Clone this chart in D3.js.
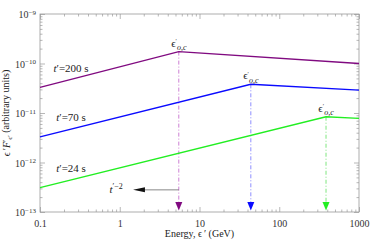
<!DOCTYPE html>
<html>
<head>
<meta charset="utf-8">
<script src="https://cdn.jsdelivr.net/npm/d3@7"></script>
<style>
  body { margin: 0; background: #fff; }
  text { font-family: "Liberation Serif", "DejaVu Serif", serif; }
</style>
</head>
<body>
<div class="chart"></div>
<script>
// spectra (energy in GeV, eF_e in arbitrary units)
const seriesNames = ['200 s', '70 s', '24 s'];
const seriesColors = ['#800a80', '#0a0aff', '#22ee22'];
const guideColors = ['#c060c8', '#7070ff', '#60e060'];
const energies = [
  [0.1, 5.5, 1000],
  [0.1, 44, 1000],
  [0.1, 386, 1000],
];
const fluxes = [
  [3.3e-11, 1.74e-10, 1.0e-10],
  [3.3e-12, 3.8e-11, 2.9e-11],
  [3.1e-13, 8.4e-12, 7.8e-12],
];
const xTicks = [0.1, 1, 10, 100, 1000];
const xTickLabels = ['0.1', '1', '10', '100', '1000'];
const yTicks = [1e-13, 1e-12, 1e-11, 1e-10, 1e-9];
const yTickExps = ['\u221213', '\u221212', '\u221211', '\u221210', '\u22129'];

const W = 371, H = 242;
const margin = {top: 14, right: 12, bottom: 30, left: 40};
const width = W - margin.left - margin.right;
const height = H - margin.top - margin.bottom;

const svg = d3.select('.chart').append('svg')
  .attr('width', W)
  .attr('height', H);

const g = svg.append('g')
  .attr('transform', `translate(${margin.left},${margin.top})`);

const x = d3.scaleLog().domain([0.1, 1000]).range([0, width]);
const y = d3.scaleLog().domain([1e-13, 1e-9]).range([height, 0]);

const frameColor = '#9a9a9a';

// minor ticks (all four sides, inward)
const xMinor = x.ticks().filter(d => xTicks.indexOf(d) === -1);
const yMinor = y.ticks().filter(d => !yTicks.some(t => Math.abs(t - d) / d < 1e-6));

function styleAxis(sel) {
  sel.select('.domain').remove();
  sel.selectAll('line').attr('stroke', frameColor).attr('stroke-width', 0.7);
}

g.append('g').attr('transform', `translate(0,${height})`)
  .call(d3.axisBottom(x).tickValues(xMinor).tickSize(-2.5).tickFormat(''))
  .call(styleAxis);
g.append('g')
  .call(d3.axisTop(x).tickValues(xMinor).tickSize(-2.5).tickFormat(''))
  .call(styleAxis);
g.append('g')
  .call(d3.axisLeft(y).tickValues(yMinor).tickSize(-2.5).tickFormat(''))
  .call(styleAxis);
g.append('g').attr('transform', `translate(${width},0)`)
  .call(d3.axisRight(y).tickValues(yMinor).tickSize(-2.5).tickFormat(''))
  .call(styleAxis);

// major ticks
const xb = g.append('g').attr('transform', `translate(0,${height})`)
  .call(d3.axisBottom(x).tickValues(xTicks).tickSize(-5).tickPadding(8)
    .tickFormat((d, i) => xTickLabels[i]))
  .call(styleAxis);
xb.selectAll('text').attr('fill', '#333').style('font-size', '10px');

g.append('g')
  .call(d3.axisTop(x).tickValues(xTicks).tickSize(-5).tickFormat(''))
  .call(styleAxis);
g.append('g').attr('transform', `translate(${width},0)`)
  .call(d3.axisRight(y).tickValues(yTicks).tickSize(-5).tickFormat(''))
  .call(styleAxis);

const yl = g.append('g')
  .call(d3.axisLeft(y).tickValues(yTicks).tickSize(-5).tickFormat(''))
  .call(styleAxis);
yl.selectAll('.tick').append('text')
  .attr('x', -4)
  .attr('dy', '0.35em')
  .attr('text-anchor', 'end')
  .attr('fill', '#333')
  .style('font-size', '10px')
  .each(function(d, i) {
    const t = d3.select(this);
    t.append('tspan').text('10');
    t.append('tspan').attr('dy', '-0.45em').style('font-size', '7px').text(yTickExps[i]);
  });

// frame
g.append('rect')
  .attr('width', width)
  .attr('height', height)
  .attr('fill', 'none')
  .attr('stroke', frameColor)
  .attr('stroke-width', 0.8);

// dash-dot guides from each break down to the axis, with arrowheads
energies.forEach((e, i) => {
  const bx = x(e[1]);
  const by = y(fluxes[i][1]);
  g.append('line')
    .attr('x1', bx).attr('x2', bx)
    .attr('y1', by).attr('y2', height - 8)
    .attr('stroke', guideColors[i])
    .attr('stroke-width', 0.8)
    .attr('stroke-dasharray', '4,2,1,2');
  g.append('path')
    .attr('d', `M${bx - 3.5},${height - 10}L${bx + 3.5},${height - 10}L${bx},${height - 1.5}Z`)
    .attr('fill', seriesColors[i]);
});

// spectra
const line = d3.line()
  .x(d => x(d[0]))
  .y(d => y(d[1]));

energies.forEach((e, i) => {
  g.append('path')
    .datum(e.map((v, j) => [v, fluxes[i][j]]))
    .attr('d', line)
    .attr('fill', 'none')
    .attr('stroke', seriesColors[i])
    .attr('stroke-width', 1.4);
});

// t' labels
const labelY = [6.7e-11, 6.9e-12, 6.4e-13];
seriesNames.forEach((n, i) => {
  const t = g.append('text')
    .attr('x', x(0.245))
    .attr('y', y(labelY[i]))
    .attr('text-anchor', 'middle')
    .attr('fill', '#222')
    .style('font-size', '11px');
  t.append('tspan').style('font-style', 'italic').text('t');
  t.append('tspan').text('\u2032=' + n);
});

// break labels
energies.forEach((e, i) => {
  const t = g.append('text')
    .attr('x', x(e[1]))
    .attr('y', y(fluxes[i][1]) - 5)
    .attr('text-anchor', 'middle')
    .attr('fill', '#222')
    .style('font-size', '11px');
  t.append('tspan').text('\u03f5');
  t.append('tspan').attr('dy', '-0.6em').style('font-size', '6px').text('\u2032');
  t.append('tspan').attr('dy', '0.9em').style('font-size', '8px')
    .style('font-style', 'italic').text('o,c');
});

// t'^-2 annotation arrow
const arrY = y(2.8e-13);
g.append('line')
  .attr('x1', x(5.5)).attr('x2', x(2.0))
  .attr('y1', arrY).attr('y2', arrY)
  .attr('stroke', '#555')
  .attr('stroke-width', 0.7);
g.append('path')
  .attr('d', `M${x(1.47)},${arrY}L${x(2.07)},${arrY - 2.5}L${x(2.07)},${arrY + 2.5}Z`)
  .attr('fill', '#111');
const ta = g.append('text')
  .attr('x', x(0.9))
  .attr('y', arrY + 3)
  .attr('text-anchor', 'middle')
  .attr('fill', '#222')
  .style('font-size', '11px');
ta.append('tspan').style('font-style', 'italic').text('t');
ta.append('tspan').attr('dy', '-0.45em').style('font-size', '8px').text('\u2032\u22122');

// axis titles
const xt = svg.append('text')
  .attr('x', margin.left + width / 2)
  .attr('y', H - 5)
  .attr('text-anchor', 'middle')
  .attr('fill', '#222')
  .style('font-size', '10px');
xt.append('tspan').text('Energy, \u03f5\u2009\u2032 (GeV)');

const yt = svg.append('text')
  .attr('transform', `translate(10,${margin.top + height / 2}) rotate(-90)`)
  .attr('text-anchor', 'middle')
  .attr('fill', '#222')
  .style('font-size', '10px');
yt.append('tspan').text('\u03f5\u2009\u2032');
yt.append('tspan').style('font-style', 'italic').text('F');
yt.append('tspan').text('\u2032');
yt.append('tspan').attr('dy', '0.3em').style('font-size', '7px').text('\u03f5\u2032');
yt.append('tspan').attr('dy', '-0.3em').text(' (arbitrary units)');
</script>
</body>
</html>
